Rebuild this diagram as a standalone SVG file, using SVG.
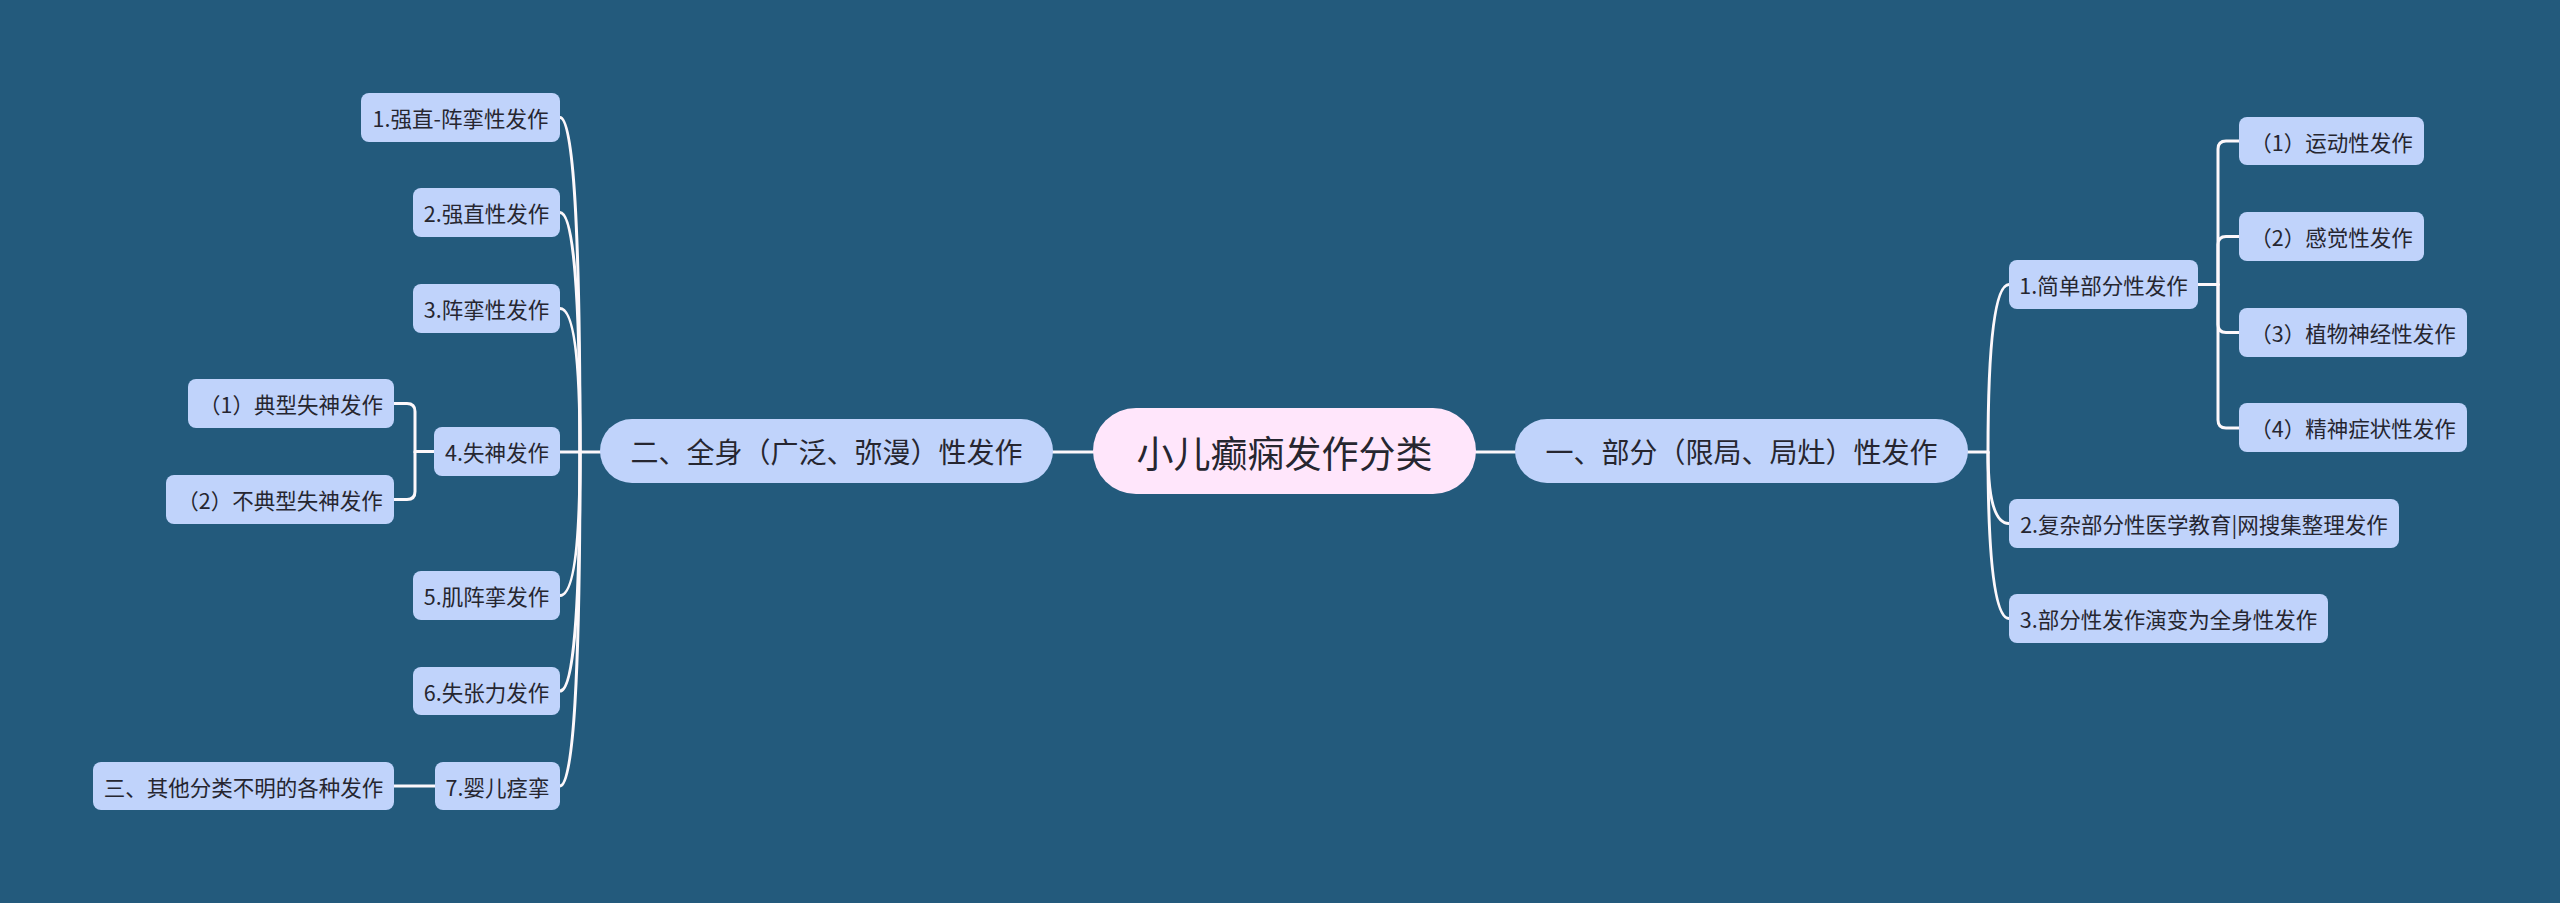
<svg xmlns="http://www.w3.org/2000/svg" width="2560" height="903" viewBox="0 0 2560 903">
<style>
.bg{fill:#235a7c}
.n rect{fill:#c0d3fb}
.c rect{fill:#ffe6fb}
text{font-family:"Noto Sans CJK SC","Noto Sans",sans-serif;fill:#262630;text-anchor:middle;dominant-baseline:central}
.t1{font-size:37px}
.t2{font-size:28px}
.t3{font-size:21.5px}
.lk path{fill:none;stroke:#fdf8fb;stroke-width:3;stroke-linecap:round}
</style>
<rect class="bg" x="0" y="0" width="2560" height="903"/>
<g id="connectors" class="lk">
<path d="M1053,452 H1093"/>
<path d="M1476,452 H1515"/>
<path d="M1968,452 H1988 Q1988,284.5 2009,284.5"/>
<path d="M1988,452 Q1988,523.5 2009,523.5"/>
<path d="M1988,452 Q1988,618.5 2009,618.5"/>
<path d="M2198,284.5 H2218"/>
<path d="M2218,284.5 V149 Q2218,141 2226,141 H2239"/>
<path d="M2218,284.5 V244.5 Q2218,236.5 2226,236.5 H2239"/>
<path d="M2218,284.5 V324.5 Q2218,332.5 2226,332.5 H2239"/>
<path d="M2218,284.5 V420 Q2218,428 2226,428 H2239"/>
<path d="M600,452 H580 Q580,117.5 560,117.5"/>
<path d="M580,452 Q580,212.5 560,212.5"/>
<path d="M580,452 Q580,308.5 560,308.5"/>
<path d="M580,452 H560"/>
<path d="M580,452 Q580,595.5 560,595.5"/>
<path d="M580,452 Q580,691 560,691"/>
<path d="M580,452 Q580,786 560,786"/>
<path d="M434,451.5 H415 V411.5 Q415,403.5 407,403.5 H394"/>
<path d="M415,451.5 V491.5 Q415,499.5 407,499.5 H394"/>
<path d="M435,786 H394"/>
</g>
<g id="root" class="c"><rect x="1093" y="408" width="383" height="86" rx="43"/><text class="t1" x="1284.5" y="452">小儿癫痫发作分类</text></g>
<g id="b1" class="n"><rect x="1515" y="419" width="453" height="64" rx="32"/><text class="t2" x="1741.5" y="451">一、部分（限局、局灶）性发作</text></g>
<g id="b2" class="n"><rect x="600" y="419" width="453" height="64" rx="32"/><text class="t2" x="826.5" y="451">二、全身（广泛、弥漫）性发作</text></g>
<g id="r1" class="n"><rect x="2009" y="260" width="189" height="49" rx="8"/><text class="t3" x="2103.5" y="284.5">1.简单部分性发作</text></g>
<g id="r1a" class="n"><rect x="2239" y="117" width="185" height="48" rx="8"/><text class="t3" x="2331.5" y="141">（1）运动性发作</text></g>
<g id="r1b" class="n"><rect x="2239" y="212" width="185" height="49" rx="8"/><text class="t3" x="2331.5" y="236.5">（2）感觉性发作</text></g>
<g id="r1c" class="n"><rect x="2239" y="308" width="228" height="49" rx="8"/><text class="t3" x="2353" y="332.5">（3）植物神经性发作</text></g>
<g id="r1d" class="n"><rect x="2239" y="403" width="228" height="49" rx="8"/><text class="t3" x="2353" y="427.5">（4）精神症状性发作</text></g>
<g id="r2" class="n"><rect x="2009" y="499" width="390" height="49" rx="8"/><text class="t3" x="2204" y="523.5">2.复杂部分性医学教育|网搜集整理发作</text></g>
<g id="r3" class="n"><rect x="2009" y="594" width="319" height="49" rx="8"/><text class="t3" x="2168.5" y="618.5">3.部分性发作演变为全身性发作</text></g>
<g id="l1" class="n"><rect x="361" y="93" width="199" height="49" rx="8"/><text class="t3" x="460.5" y="117.5">1.强直-阵挛性发作</text></g>
<g id="l2" class="n"><rect x="413" y="188" width="147" height="49" rx="8"/><text class="t3" x="486.5" y="212.5">2.强直性发作</text></g>
<g id="l3" class="n"><rect x="413" y="284" width="147" height="49" rx="8"/><text class="t3" x="486.5" y="308.5">3.阵挛性发作</text></g>
<g id="l4" class="n"><rect x="434" y="427" width="126" height="49" rx="8"/><text class="t3" x="497" y="451.5">4.失神发作</text></g>
<g id="l4a" class="n"><rect x="188" y="379" width="206" height="49" rx="8"/><text class="t3" x="291" y="403.5">（1）典型失神发作</text></g>
<g id="l4b" class="n"><rect x="166" y="475" width="228" height="49" rx="8"/><text class="t3" x="280" y="499.5">（2）不典型失神发作</text></g>
<g id="l5" class="n"><rect x="413" y="571" width="147" height="49" rx="8"/><text class="t3" x="486.5" y="595.5">5.肌阵挛发作</text></g>
<g id="l6" class="n"><rect x="413" y="667" width="147" height="48" rx="8"/><text class="t3" x="486.5" y="691">6.失张力发作</text></g>
<g id="l7" class="n"><rect x="435" y="762" width="125" height="48" rx="8"/><text class="t3" x="497.5" y="786">7.婴儿痉挛</text></g>
<g id="l7a" class="n"><rect x="93" y="762" width="301" height="48" rx="8"/><text class="t3" x="243.5" y="786">三、其他分类不明的各种发作</text></g>
</svg>
